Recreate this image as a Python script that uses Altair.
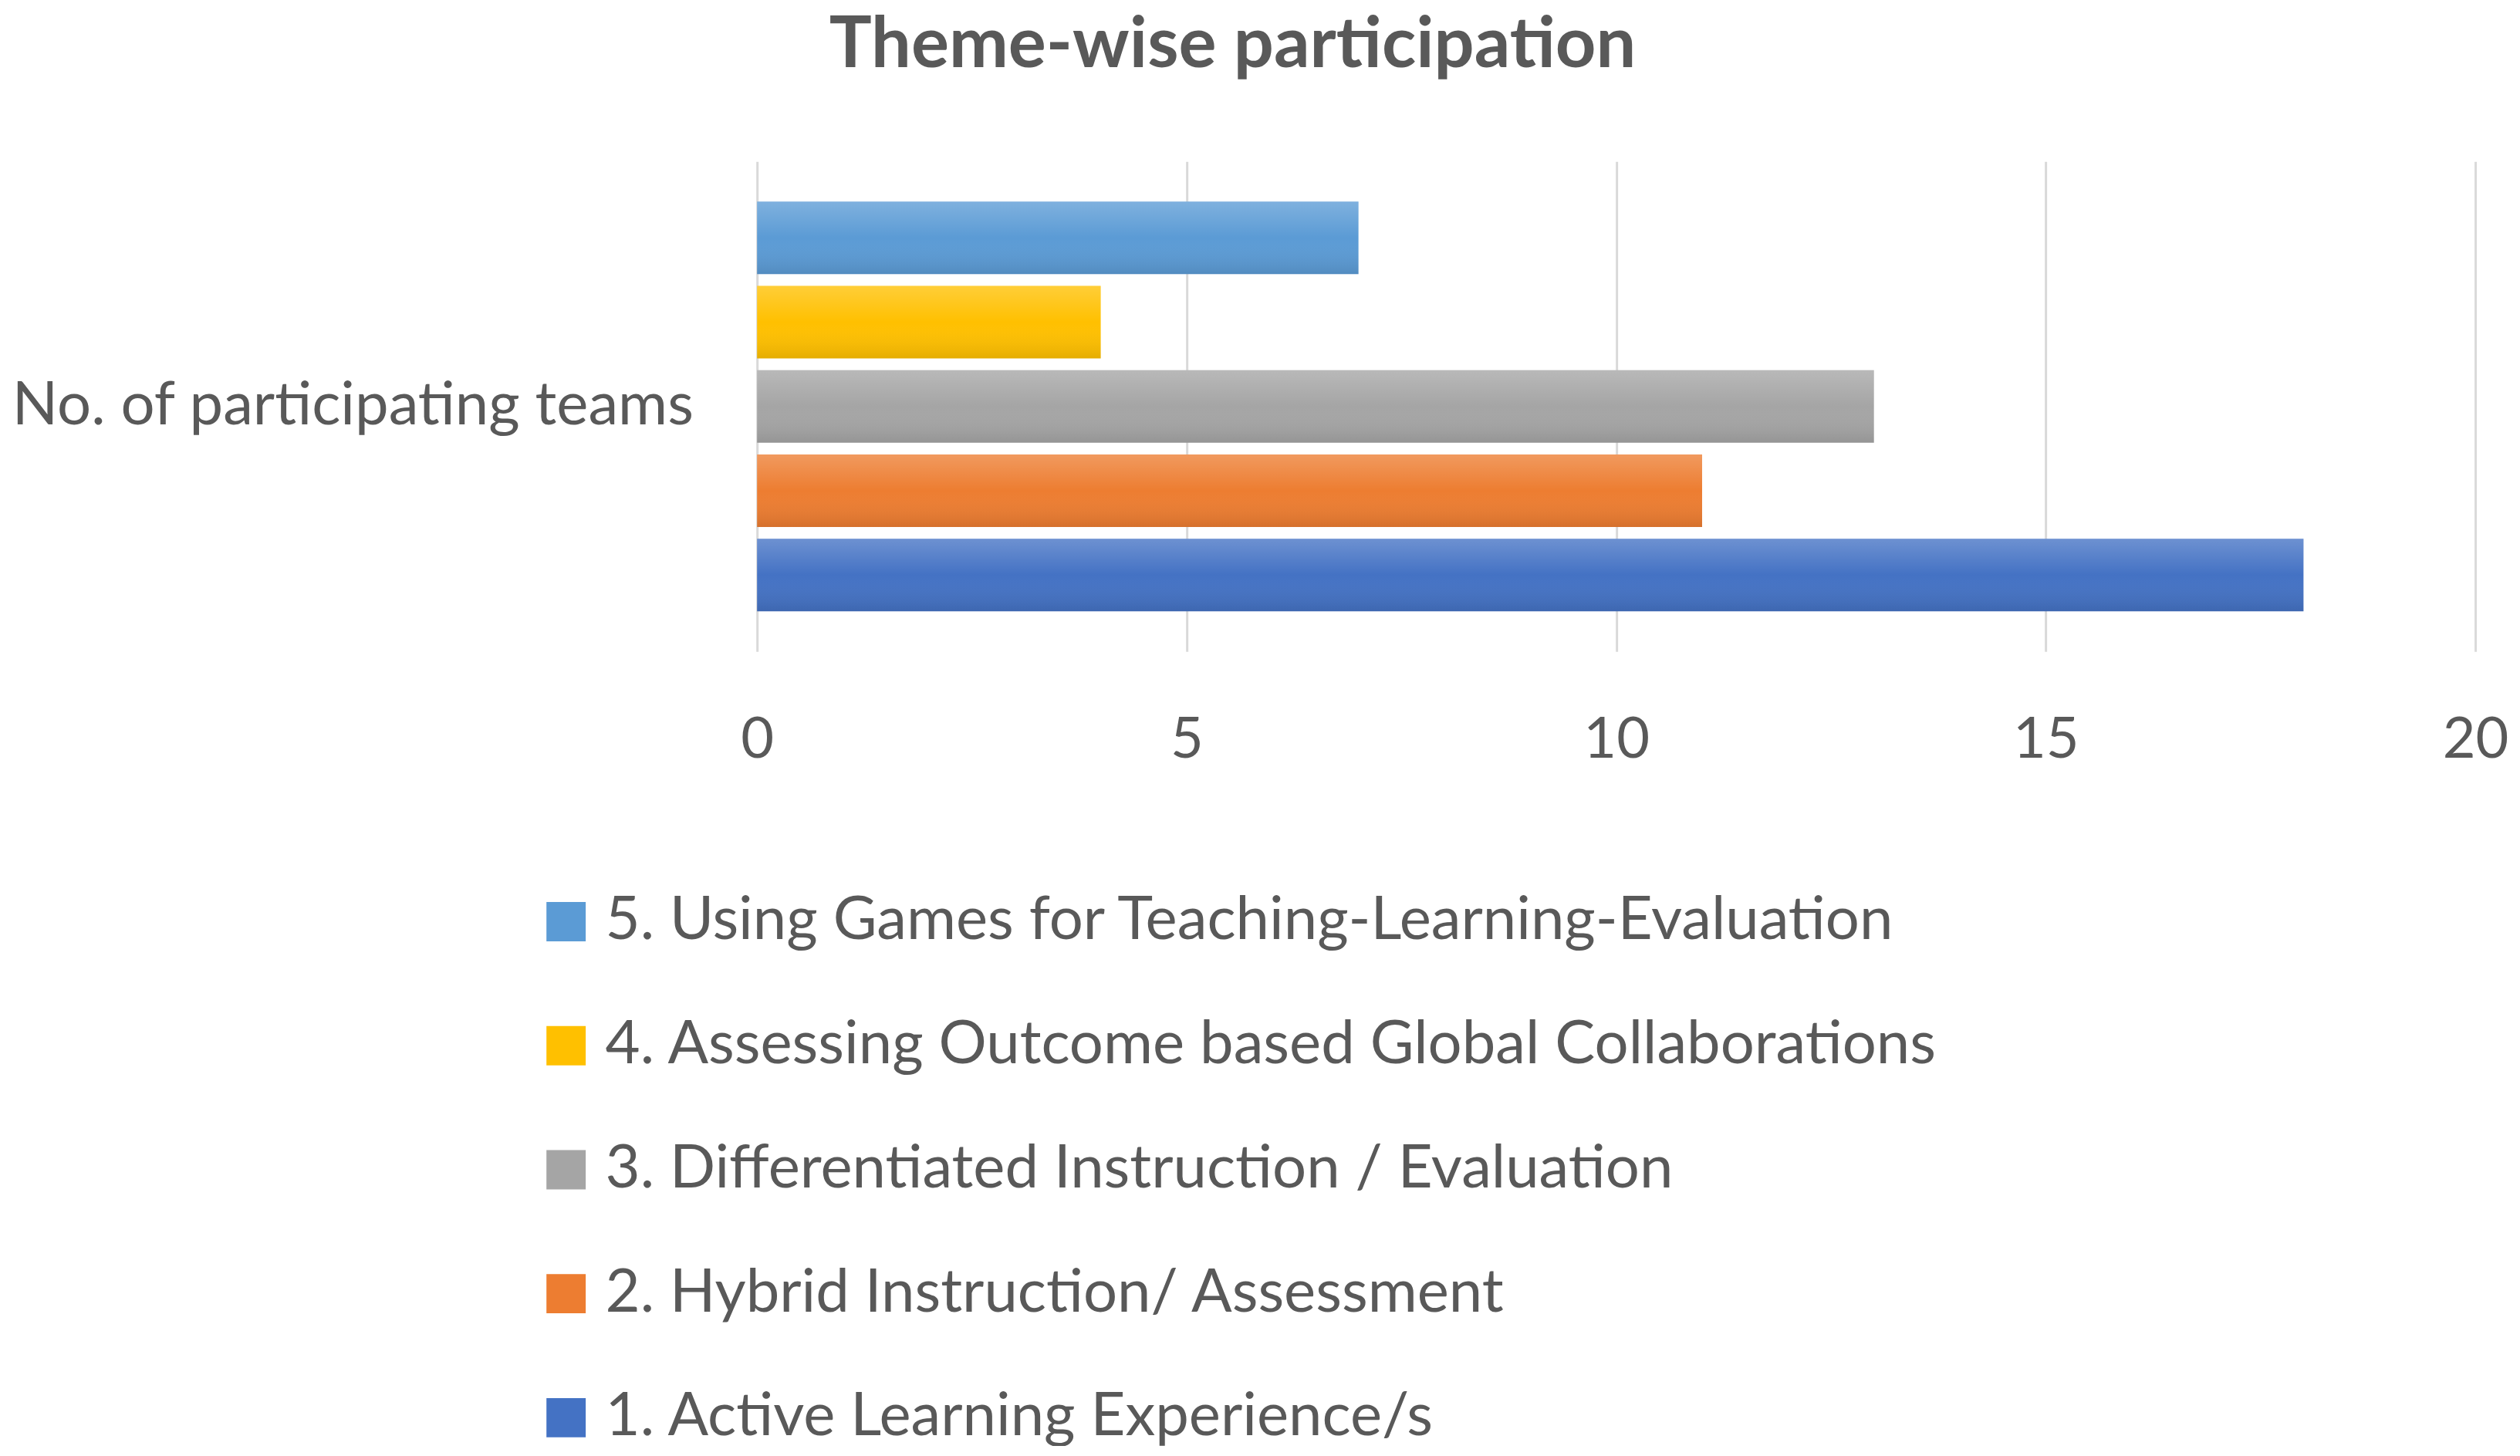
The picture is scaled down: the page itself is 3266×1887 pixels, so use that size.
import altair as alt
import pandas as pd

category = "No. of participating teams"
themes = [
    "5. Using Games for Teaching-Learning-Evaluation",
    "4. Assessing Outcome based Global Collaborations",
    "3. Differentiated Instruction / Evaluation",
    "2. Hybrid Instruction/ Assessment",
    "1. Active Learning Experience/s",
]
teams = [7, 4, 13, 11, 18]
colors = ["#5B9BD5", "#FFC000", "#A5A5A5", "#ED7D31", "#4472C4"]

df = pd.DataFrame({"cat": [category] * len(themes), "theme": themes, "teams": teams})

FONT = "Lato"
TXT = "#595959"

y_enc = alt.Y("cat:N", title=None,
              scale=alt.Scale(paddingOuter=0.081, paddingInner=0),
              axis=alt.Axis(labelFontSize=78, labelColor=TXT, labelFont=FONT,
                            labelPadding=83, ticks=False, tickSize=0, domain=False,
                            labelLimit=2000))
yoff = alt.YOffset("theme:N", sort=themes,
                   scale=alt.Scale(paddingInner=0.14, paddingOuter=0.07))
x_enc = alt.X("teams:Q", title=None,
              scale=alt.Scale(domain=[0, 20], nice=False),
              axis=alt.Axis(values=[0, 5, 10, 15, 20], labelFontSize=74, labelColor=TXT,
                            labelFont=FONT, labelPadding=80, ticks=False, tickSize=0,
                            labelFlush=False,
                            domain=False, grid=True, gridColor="#D9D9D9", gridWidth=3))

base = alt.Chart(df).encode(y=y_enc, yOffset=yoff, x=x_enc)

bars = base.mark_bar().encode(
    color=alt.Color("theme:N",
                    scale=alt.Scale(domain=themes, range=colors),
                    legend=alt.Legend(title=None, orient="none", legendX=-287, legendY=948,
                                      direction="vertical", symbolType="square",
                                      symbolSize=2601, symbolStrokeWidth=0,
                                      labelFontSize=78, labelColor=TXT, labelFont=FONT,
                                      labelOffset=12, rowPadding=83, padding=0,
                                      labelLimit=3000))
)

shade = base.mark_bar(
    color=alt.Gradient(
        gradient="linear", x1=0, y1=0, x2=0, y2=1,
        stops=[alt.GradientStop(offset=0, color="rgba(255,255,255,0.22)"),
               alt.GradientStop(offset=0.5, color="rgba(255,255,255,0.0)"),
               alt.GradientStop(offset=1, color="rgba(0,0,0,0.10)")]
    )
)

chart = alt.layer(bars, shade).properties(
    width=2231, height=636,
    title=alt.TitleParams("Theme-wise participation", fontSize=92, font=FONT,
                          fontWeight="bold", color=TXT, anchor="middle",
                          dx=-498, offset=104),
    padding={"left": 975, "top": 200, "right": 50, "bottom": 1030},
    autosize=alt.AutoSizeParams(type="none"),
).configure_view(stroke=None)

chart.save("out.html", embed_options={"renderer": "svg", "actions": False})
